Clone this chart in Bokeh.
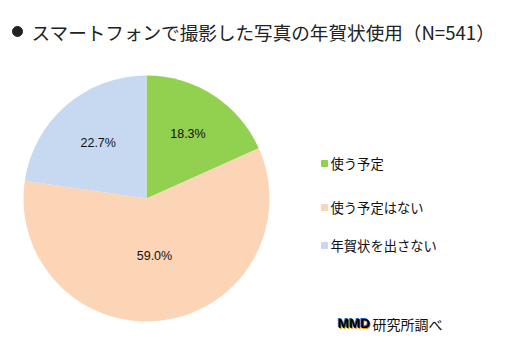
import math
from bokeh.plotting import figure
from bokeh.models import Range1d, ColumnDataSource
from bokeh.core.properties import value
from bokeh.embed import file_html
from bokeh.resources import INLINE

title = "スマートフォンで撮影した写真の年賀状使用（N=541）"
categories = ["使う予定", "使う予定はない", "年賀状を出さない"]
shares = [18.3, 59.0, 22.7]
colors = ["#92D050", "#FBD5B5", "#C6D9F1"]
source_note = "研究所調べ"

W, H = 506, 352
p = figure(width=W, height=H, output_backend="svg", toolbar_location=None,
           x_range=Range1d(0, W), y_range=Range1d(0, H), min_border=0)
p.axis.visible = False
p.grid.visible = False
p.outline_line_color = None
p.background_fill_color = "white"
p.border_fill_color = "white"

cx, cy, r = 146, H - 198, 123
label_radius = [0.62, 0.47, 0.60]
total = sum(shares)
starts, ends, lx, ly, labels = [], [], [], [], []
a = math.pi / 2
for s, f in zip(shares, label_radius):
    b = a - s / total * 2 * math.pi
    starts.append(b)
    ends.append(a)
    mid = (a + b) / 2
    lx.append(cx + f * r * math.cos(mid))
    ly.append(cy + f * r * math.sin(mid))
    labels.append(f"{s:.1f}%")
    a = b

src = ColumnDataSource(dict(start=starts, end=ends, color=colors))
p.wedge(x=cx, y=cy, radius=r, start_angle="start", end_angle="end",
        fill_color="color", line_color=None, source=src)

p.text(x=lx, y=ly, text=labels, text_align="center", text_baseline="middle",
       text_font=value("Liberation Sans"), text_font_size="12.5px", text_color="#111111")

# title
p.scatter(x=[17], y=[H - 31], size=10, color="#222222")
p.text(x=[31], y=[H - 31], text=[title], text_baseline="middle",
       text_font=value("Noto Sans CJK JP"), text_font_size="18.6px", text_color="#222222")

# legend
leg_y = [H - 163, H - 207, H - 245]
p.scatter(x=[324] * 3, y=leg_y, marker="square", size=6, color=colors)
p.text(x=[330] * 3, y=leg_y, text=categories, text_baseline="middle",
       text_font=value("Noto Sans CJK JP"), text_font_size="13.3px", text_color="#111111")

# source note
ny = H - 323
p.text(x=[338.5], y=[ny - 1], text=["MMD"], text_baseline="middle",
       text_font=value("Liberation Sans"), text_font_style="bold", text_font_size="13.5px", text_color="#F0A000")
p.text(x=[336.5], y=[ny + 1], text=["MMD"], text_baseline="middle",
       text_font=value("Liberation Sans"), text_font_style="bold", text_font_size="13.5px", text_color="#2060C0")
p.text(x=[337.5], y=[ny], text=["MMD"], text_baseline="middle",
       text_font=value("Liberation Sans"), text_font_style="bold", text_font_size="13.5px", text_color="#000000")
p.text(x=[372], y=[ny], text=[source_note], text_baseline="middle",
       text_font=value("Noto Sans CJK JP"), text_font_size="14px", text_color="#111111")

open("out.html", "w").write(file_html(p, INLINE))
